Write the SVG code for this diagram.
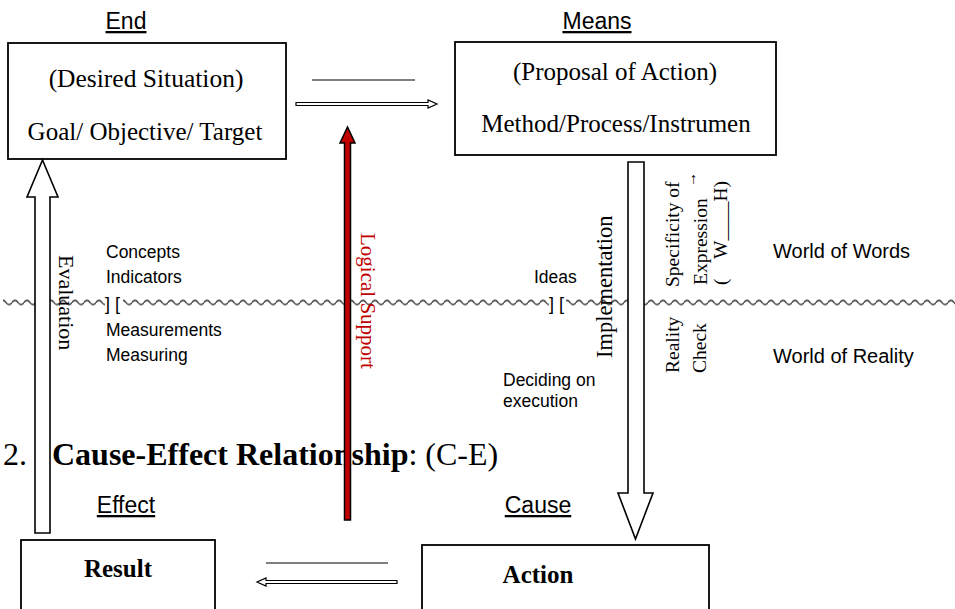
<svg xmlns="http://www.w3.org/2000/svg" width="955" height="609" viewBox="0 0 955 609">
<style>
.box{fill:#fff;stroke:#000;stroke-width:1.8}
.ser{font-family:"Liberation Serif","Times New Roman",serif;fill:#000}
.sans{font-family:"Liberation Sans",Arial,sans-serif;fill:#000}
.hd{font-size:23px;text-decoration:underline}
.sm{font-size:17.5px}
.wl{font-size:20px}
.rot{font-size:19.5px}
.harrow{fill:#fff;stroke:#000;stroke-width:1.2}
.big{fill:#fff;stroke:#000;stroke-width:1.6}
</style>
<defs>
<pattern id="wave" patternUnits="userSpaceOnUse" x="0" y="298.5" width="12" height="8">
<path d="M0,4 C2,1.2 4,1.2 6,4 S10,6.8 12,4" fill="none" stroke="#000" stroke-width="1.1"/>
</pattern>
</defs>

<g id="divider">
<rect x="3" y="298.5" width="102" height="8" fill="url(#wave)"/>
<rect x="123" y="298.5" width="426" height="8" fill="url(#wave)"/>
<rect x="566" y="298.5" width="389" height="8" fill="url(#wave)"/>
<text class="sans" x="105" y="310" font-size="18">] [</text>
<text class="sans" x="549" y="310" font-size="18">] [</text>
</g>

<g id="end">
<text class="sans hd" x="126" y="29" text-anchor="middle">End</text>
<rect class="box" x="8" y="43" width="278" height="116"/>
<text class="ser" x="146" y="87" font-size="25.5" text-anchor="middle">(Desired Situation)</text>
<text class="ser" x="145" y="140" font-size="25" text-anchor="middle">Goal/ Objective/ Target</text>
</g>

<g id="means">
<text class="sans hd" x="597" y="29" text-anchor="middle">Means</text>
<rect class="box" x="455" y="42" width="321" height="113"/>
<text class="ser" x="615" y="80" font-size="25" text-anchor="middle">(Proposal of Action)</text>
<text class="ser" x="616" y="132" font-size="25" text-anchor="middle">Method/Process/Instrumen</text>
</g>

<g id="result">
<text class="sans hd" x="126" y="513" text-anchor="middle">Effect</text>
<rect class="box" x="21" y="540" width="194" height="80"/>
<text class="ser" x="118" y="577" font-size="25" font-weight="bold" text-anchor="middle">Result</text>
</g>

<g id="action">
<text class="sans hd" x="538" y="513" text-anchor="middle">Cause</text>
<rect class="box" x="422" y="545" width="287" height="75"/>
<text class="ser" x="538" y="583" font-size="25" font-weight="bold" text-anchor="middle">Action</text>
</g>

<g id="labels">
<text class="sans sm" x="106" y="258">Concepts</text>
<text class="sans sm" x="106" y="283">Indicators</text>
<text class="sans sm" x="106" y="336">Measurements</text>
<text class="sans sm" x="106" y="361">Measuring</text>
<text class="sans sm" x="534" y="283">Ideas</text>
<text class="sans sm" x="503" y="386">Deciding on</text>
<text class="sans sm" x="503" y="407">execution</text>
<text class="sans wl" x="773" y="258">World of Words</text>
<text class="sans wl" x="773" y="363">World of Reality</text>
<text class="ser rot" transform="translate(679,287) rotate(-90)">Specificity of</text>
<text class="ser rot" transform="translate(707,285) rotate(-90)">Expression</text>
<text class="ser rot" transform="translate(727,285) rotate(-90)">(&#8195;W____H)</text>
<text class="ser" font-size="15" transform="translate(696,187) rotate(-90)">→</text>
<text class="ser rot" transform="translate(679,373) rotate(-90)">Reality</text>
<text class="ser rot" transform="translate(706,373) rotate(-90)">Check</text>
<text class="ser" x="3" y="465" font-size="32">2.</text>
<text class="ser" x="52" y="465" font-size="32"><tspan font-weight="bold">Cause-Effect Relationship</tspan>: (C-E)</text>
</g>

<g id="connectors">
<line x1="312" y1="80" x2="415" y2="80" stroke="#000" stroke-width="1.2"/>
<polygon class="harrow" points="296,102.5 428,102.5 428,100 437,104 428,108 428,105.5 296,105.5"/>
<line x1="266" y1="563" x2="388" y2="563" stroke="#000" stroke-width="1.2"/>
<polygon class="harrow" points="397,580.5 266,580.5 266,578 257,582 266,586 266,583.5 397,583.5"/>
<polygon class="big" points="35,533 35,197 27,197 42.5,160 58,197 50,197 50,533"/>
<polygon class="big" points="628,162 644,162 644,493 653,493 635.5,539 618,493 628,493"/>
<polygon fill="#c00000" stroke="#000" stroke-width="1.5" points="344.5,520 344.5,143 340,143 347.5,127 355,143 350.5,143 350.5,520"/>
</g>

<g id="rotated-labels">
<text class="ser" font-size="22" transform="translate(59,255) rotate(90)">Evaluation</text>
<text class="ser" font-size="21" style="fill:#c00000" transform="translate(361,233) rotate(90)">Logical Support</text>
<text class="ser" font-size="22.5" transform="translate(612,358) rotate(-90)">Implementation</text>
</g>
</svg>
